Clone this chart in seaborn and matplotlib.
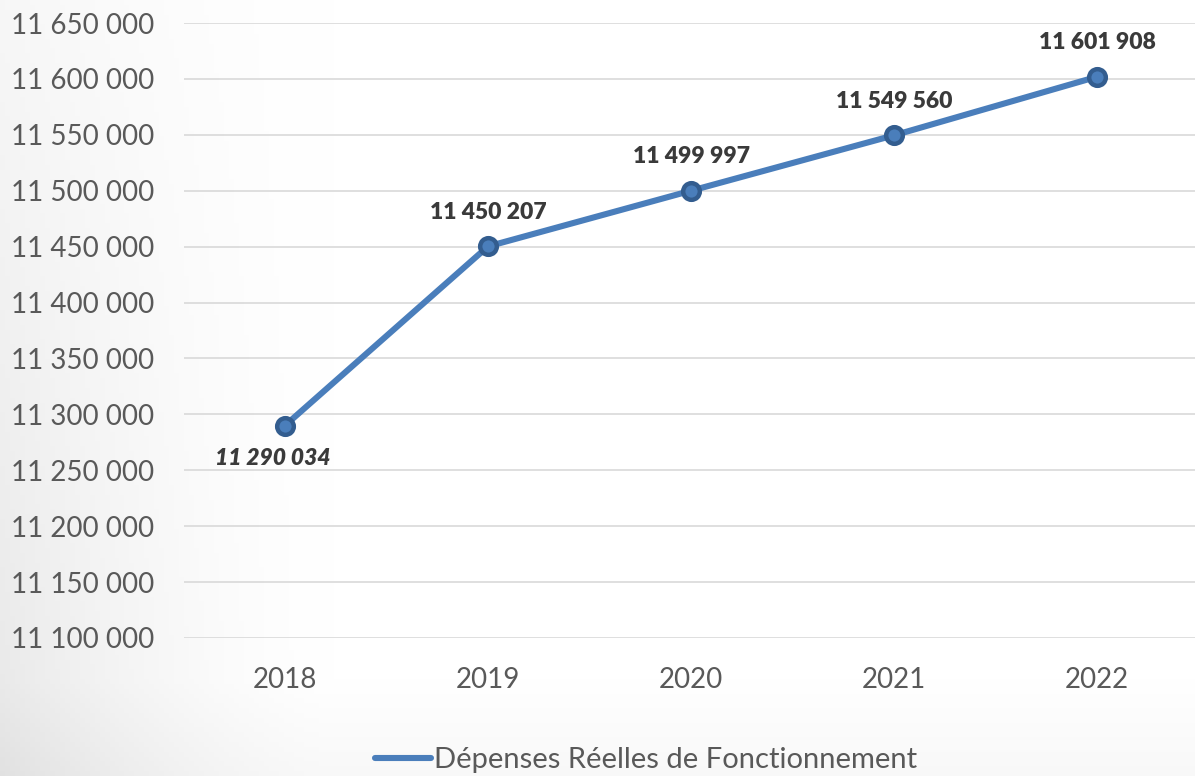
import numpy as np
import pandas as pd
import matplotlib
matplotlib.use("Agg")
import matplotlib.pyplot as plt
from matplotlib.lines import Line2D
from matplotlib.ticker import FuncFormatter, MultipleLocator
import seaborn as sns

years = ["2018", "2019", "2020", "2021", "2022"]
depenses = [11290034, 11450207, 11499997, 11549560, 11601908]
series_name = "Dépenses Réelles de Fonctionnement"

df = pd.DataFrame({"Année": years, "Montant": depenses})

sns.set_theme(style="white")
plt.rcParams["font.family"] = ["Lato", "DejaVu Sans"]

W, H = 1195, 776
fig = plt.figure(figsize=(W / 100, H / 100), dpi=100)

# soft grey wash in the lower-left corner of the background
bg = fig.add_axes([0, 0, 1, 1], zorder=-10)
xx, yy = np.meshgrid(np.linspace(0, 1, 240), np.linspace(0, 1, 160))
shade = np.clip(1 - xx / 0.28, 0, 1) ** 1.5 * (0.35 + 0.65 * yy) * 0.09
shade += np.clip(1 - (1 - yy) / 0.12, 0, 1) * 0.025
img = 1 - shade
bg.imshow(np.dstack([img, img, img]), extent=[0, 1, 0, 1], aspect="auto", origin="upper")
bg.axis("off")

ax = fig.add_axes([183.5 / W, (H - 638) / H, 1015 / W, 615 / H])
ax.set_facecolor("none")

line_color = "#4a7ebb"
edge_color = "#335d8f"

sns.lineplot(data=df, x="Année", y="Montant", ax=ax, color=line_color, linewidth=4.4,
             marker="o", markersize=12, markerfacecolor=line_color,
             markeredgecolor=edge_color, markeredgewidth=3.2,
             legend=False, zorder=3)

ax.set_xlim(-0.5, 4.5)
ax.set_ylim(11100000, 11650000)
ax.yaxis.set_major_locator(MultipleLocator(50000))
ax.yaxis.set_major_formatter(FuncFormatter(lambda v, p: f"{int(round(v)):,}".replace(",", " ")))
ax.grid(axis="y", color="#d9d9d9", linewidth=1.2)
ax.grid(axis="x", visible=False)
for s in ax.spines.values():
    s.set_visible(False)
ax.tick_params(axis="both", length=0, labelsize=20, labelcolor="#595959")
ax.tick_params(axis="y", pad=21)
ax.tick_params(axis="x", pad=21)
ax.set_xlabel("")
ax.set_ylabel("")

for i, (yr, v) in enumerate(zip(years, depenses)):
    label = f"{v:,}".replace(",", " ")
    if i == 0:
        ax.annotate(label, (i, v), xytext=(-9, -24), textcoords="offset points",
                    ha="center", va="center", fontsize=16.5, fontweight="heavy",
                    fontstyle="italic", color="#3a3a3a")
    else:
        ax.annotate(label, (i, v), xytext=(0, 24.5), textcoords="offset points",
                    ha="center", va="center", fontsize=16.5, fontweight="heavy",
                    color="#3a3a3a")

legend_handle = Line2D([], [], color=line_color, linewidth=4.4, solid_capstyle="round")
fig.legend([legend_handle], [series_name], loc="center", bbox_to_anchor=(646 / W, 16 / H),
           frameon=False, fontsize=21, handlelength=1.9, handletextpad=0.1,
           labelcolor="#595959")

fig.savefig("out.png", dpi=100)
